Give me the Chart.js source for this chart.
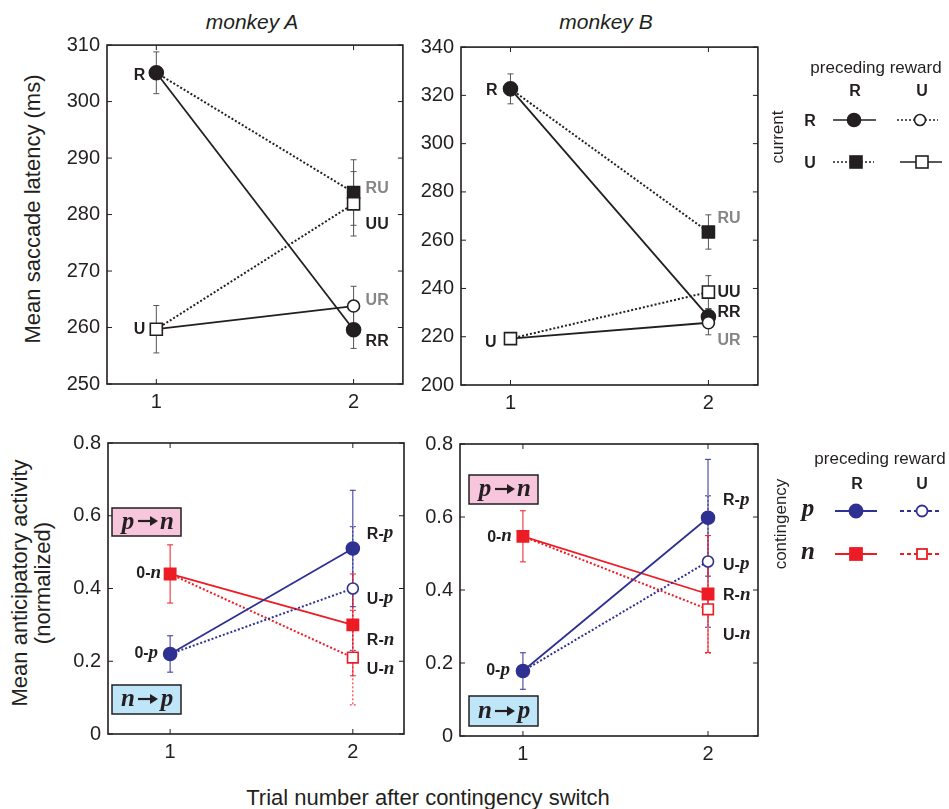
<!DOCTYPE html>
<html lang="en">
<head>
<meta charset="UTF-8">
<title>Saccade latency and anticipatory activity</title>
<script src="https://cdn.jsdelivr.net/npm/chart.js@4.4.0/dist/chart.umd.min.js"></script>
<style>
    * { margin: 0; padding: 0; box-sizing: border-box; }
    body {
        width: 949px; height: 809px; position: relative; overflow: hidden;
        background: #fff; color: #231f20;
        font-family: "Liberation Sans", Arial, sans-serif;
    }
    canvas { position: absolute; }
    .txt { position: absolute; white-space: nowrap; transform: translate(-50%, -50%); }
    .rot { transform: translate(-50%, -50%) rotate(-90deg); text-align: center; }
    .title { font-size: 21px; font-style: italic; }
    .axis-title { font-size: 22px; line-height: 23px; }
    svg { position: absolute; left: 0; top: 0; }
</style>
</head>
<body>
    <div class="txt title" style="left:252px; top:22px;">monkey A</div>
    <div class="txt title" style="left:606px; top:22px;">monkey B</div>
    <div class="txt rot axis-title" style="left:32px; top:209px;">Mean saccade latency (ms)</div>
    <div class="txt rot axis-title" style="left:31px; top:583px;">Mean anticipatory activity<br>(normalized)</div>
    <div class="txt axis-title" style="left:428px; top:797px;">Trial number after contingency switch</div>

    <canvas id="latA" width="356" height="379" style="left:57px; top:35px;"></canvas>
    <canvas id="latB" width="357" height="378" style="left:411px; top:37px;"></canvas>
    <canvas id="actA" width="356" height="331" style="left:58px; top:433px;"></canvas>
    <canvas id="actB" width="358" height="332" style="left:410px; top:434px;"></canvas>

    <svg width="949" height="809" font-family="Liberation Sans, Arial, sans-serif">
        <!-- switch-direction boxes -->
        <g stroke="#231f20" stroke-width="1.5">
            <rect x="112" y="508" width="69" height="28" fill="#f7c6dc"/>
            <rect x="112" y="685" width="69" height="29" fill="#bfe6f8"/>
            <rect x="469" y="475" width="69" height="29" fill="#f7c6dc"/>
            <rect x="469" y="696" width="69" height="30" fill="#bfe6f8"/>
        </g>
        <g font-family="Liberation Serif, Times New Roman, serif" font-style="italic" font-weight="bold" font-size="25" fill="#231f20" text-anchor="middle">
            <text x="128" y="529">p</text><text x="167" y="529">n</text>
            <text x="128" y="706">n</text><text x="167" y="706">p</text>
            <text x="485" y="496">p</text><text x="524" y="496">n</text>
            <text x="485" y="718">n</text><text x="524" y="718">p</text>
        </g>
        <g fill="#231f20" stroke="#231f20" stroke-width="2.2">
            <line x1="138" y1="521" x2="151" y2="521"/><path d="M150 516 L158 521 L150 526 Z" stroke="none"/>
            <line x1="138" y1="699" x2="151" y2="699"/><path d="M150 694 L158 699 L150 704 Z" stroke="none"/>
            <line x1="495" y1="489" x2="508" y2="489"/><path d="M507 484 L515 489 L507 494 Z" stroke="none"/>
            <line x1="495" y1="711" x2="508" y2="711"/><path d="M507 706 L515 711 L507 716 Z" stroke="none"/>
        </g>

        <!-- legend: latency -->
        <g fill="#231f20">
            <text x="876" y="73" font-size="17" text-anchor="middle">preceding reward</text>
            <text x="855" y="96" font-size="16" font-weight="bold" text-anchor="middle">R</text>
            <text x="922" y="96" font-size="16" font-weight="bold" text-anchor="middle">U</text>
            <text x="810" y="126" font-size="16" font-weight="bold" text-anchor="middle">R</text>
            <text x="810" y="168" font-size="16" font-weight="bold" text-anchor="middle">U</text>
            <text transform="translate(783 137) rotate(-90)" font-size="17" text-anchor="middle">current</text>
        </g>
        <g stroke="#231f20" stroke-width="1.6">
            <line x1="833" y1="120" x2="876" y2="120"/>
            <circle cx="854" cy="120" r="6.5" fill="#231f20"/>
            <line x1="897" y1="120" x2="938" y2="120" stroke-dasharray="2 2"/>
            <circle cx="920" cy="120" r="5.5" fill="#fff"/>
            <line x1="833" y1="162" x2="874" y2="162" stroke-dasharray="2 2"/>
            <rect x="850" y="156" width="12" height="12" fill="#231f20"/>
            <line x1="900" y1="162" x2="942" y2="162"/>
            <rect x="916" y="156" width="12" height="12" fill="#fff"/>
        </g>

        <!-- legend: activity -->
        <g fill="#231f20">
            <text x="880" y="464" font-size="17" text-anchor="middle">preceding reward</text>
            <text x="857" y="489" font-size="16" font-weight="bold" text-anchor="middle">R</text>
            <text x="922" y="489" font-size="16" font-weight="bold" text-anchor="middle">U</text>
            <text x="808" y="516" font-size="25" font-weight="bold" font-style="italic" font-family="Liberation Serif, serif" text-anchor="middle">p</text>
            <text x="808" y="559" font-size="25" font-weight="bold" font-style="italic" font-family="Liberation Serif, serif" text-anchor="middle">n</text>
            <text transform="translate(786 524) rotate(-90)" font-size="17" text-anchor="middle">contingency</text>
        </g>
        <g stroke-width="1.8">
            <line x1="835" y1="511" x2="877" y2="511" stroke="#2e3192"/>
            <circle cx="856" cy="511" r="6.5" fill="#2e3192" stroke="#2e3192"/>
            <line x1="900" y1="511" x2="942" y2="511" stroke="#2e3192" stroke-dasharray="4 3"/>
            <circle cx="922" cy="511" r="5.5" fill="#fff" stroke="#2e3192"/>
            <line x1="835" y1="554" x2="877" y2="554" stroke="#ed1c24"/>
            <rect x="850" y="548" width="12" height="12" fill="#ed1c24" stroke="#ed1c24"/>
            <line x1="900" y1="554" x2="942" y2="554" stroke="#ed1c24" stroke-dasharray="4 3"/>
            <rect x="917" y="549" width="10" height="10" fill="#fff" stroke="#ed1c24"/>
        </g>
    </svg>

    <script>
        // x positions
        const trials = [1, 2];

        // monkey A latency (ms). trial 1: R, U ; trial 2: RR, RU, UR, UU
        const latA1 = [305.1, 259.7];
        const latA1Err = [3.7, 4.2];
        const latA2 = [259.6, 283.9, 263.8, 281.9];
        const latA2Err = [3.3, 5.8, 3.5, 5.7];

        // monkey B latency (ms)
        const latB1 = [322.7, 219.2];
        const latB1Err = [6.2, 2.2];
        const latB2 = [228.3, 263.4, 225.8, 238.5];
        const latB2Err = [3.2, 7.1, 5.0, 6.8];

        // anticipatory activity. trial 1: 0-p, 0-n ; trial 2: R-p, U-p, R-n, U-n
        const actA1 = [0.22, 0.44];
        const actA1Err = [0.05, 0.08];
        const actA2 = [0.51, 0.40, 0.30, 0.21];
        const actA2Err = [0.16, 0.17, 0.14, 0.13];

        const actB1 = [0.178, 0.547];
        const actB1Err = [0.05, 0.07];
        const actB2 = [0.598, 0.478, 0.389, 0.347];
        const actB2Err = [0.16, 0.18, 0.16, 0.12];

        // which trial-1 point each trial-2 point is joined to
        const trial2From = [0, 0, 1, 1];

        const latNames1 = ['R', 'U'];
        const latNames2 = ['RR', 'RU', 'UR', 'UU'];
        const actNames1 = [['0-', 'p'], ['0-', 'n']];
        const actNames2 = [['R-', 'p'], ['U-', 'p'], ['R-', 'n'], ['U-', 'n']];

        const INK = '#231f20', BLUE = '#2e3192', RED = '#ed1c24', GREY = '#858585';

        // marker styles
        const latMk1 = [
            { shape: 'circle', r: 7, fill: INK, color: INK },
            { shape: 'rect', r: 8.5, fill: '#fff', color: INK }
        ];
        const latMk2 = [
            { shape: 'circle', r: 7, fill: INK, color: INK, dash: [] },
            { shape: 'rect', r: 8.5, fill: INK, color: INK, dash: [2, 2] },
            { shape: 'circle', r: 6, fill: '#fff', color: INK, dash: [] },
            { shape: 'rect', r: 8.5, fill: '#fff', color: INK, dash: [2, 2] }
        ];
        const actMk1 = [
            { shape: 'circle', r: 6.5, fill: BLUE, color: BLUE },
            { shape: 'rect', r: 8, fill: RED, color: RED }
        ];
        const actMk2 = [
            { shape: 'circle', r: 6.5, fill: BLUE, color: BLUE, dash: [] },
            { shape: 'circle', r: 5.5, fill: '#fff', color: BLUE, dash: [2, 2] },
            { shape: 'rect', r: 8, fill: RED, color: RED, dash: [] },
            { shape: 'rect', r: 7.5, fill: '#fff', color: RED, dash: [2, 2] }
        ];

        function buildSets(v1, e1, v2, e2, mk1, mk2, errColor) {
            const sets = [];
            let k = 0;
            const marker = (x, y, err, m, errDash) => ({
                data: [{ x: x, y: y }],
                showLine: false,
                pointStyle: m.shape,
                pointRadius: m.r,
                pointBackgroundColor: m.fill,
                pointBorderColor: m.color,
                pointBorderWidth: 1.6,
                order: 50 - (k++),
                errors: [err],
                errColor: errColor || m.color,
                errDash: errDash
            });
            v1.forEach((v, i) => sets.push(marker(trials[0], v, e1[i], mk1[i], [])));
            v2.forEach((v, i) => sets.push(marker(trials[1], v, e2[i], mk2[i], errColor ? [] : mk2[i].dash)));
            v2.forEach((v, i) => sets.push({
                data: [{ x: trials[0], y: v1[trial2From[i]] }, { x: trials[1], y: v }],
                borderColor: mk2[i].color,
                borderWidth: mk2[i].dash.length ? 2 : 1.8,
                borderDash: mk2[i].dash,
                pointRadius: 0,
                order: 100
            }));
            return sets;
        }

        const decor = {
            id: 'decor',
            beforeDatasetsDraw(chart) {
                const { ctx, scales: { x, y } } = chart;
                ctx.save();
                chart.data.datasets.forEach(ds => {
                    if (!ds.errors) return;
                    ctx.strokeStyle = ds.errColor;
                    ctx.lineWidth = 1;
                    ctx.setLineDash(ds.errDash || []);
                    ds.data.forEach((p, i) => {
                        const px = x.getPixelForValue(p.x);
                        const top = y.getPixelForValue(p.y + ds.errors[i]);
                        const bot = y.getPixelForValue(p.y - ds.errors[i]);
                        ctx.beginPath();
                        ctx.moveTo(px, top); ctx.lineTo(px, bot);
                        ctx.moveTo(px - 3, top); ctx.lineTo(px + 3, top);
                        ctx.moveTo(px - 3, bot); ctx.lineTo(px + 3, bot);
                        ctx.stroke();
                    });
                });
                ctx.restore();
            },
            afterDraw(chart, args, opts) {
                const { ctx, chartArea: a, scales: { x, y } } = chart;
                ctx.save();
                ctx.strokeStyle = INK;
                ctx.lineWidth = 1.6;
                ctx.strokeRect(a.left, a.top, a.right - a.left, a.bottom - a.top);
                // MATLAB style inward ticks
                ctx.lineWidth = 1;
                ctx.beginPath();
                x.ticks.forEach(t => {
                    const px = x.getPixelForValue(t.value);
                    ctx.moveTo(px, a.bottom); ctx.lineTo(px, a.bottom - 5);
                    ctx.moveTo(px, a.top); ctx.lineTo(px, a.top + 5);
                });
                y.ticks.forEach(t => {
                    const py = y.getPixelForValue(t.value);
                    ctx.moveTo(a.left, py); ctx.lineTo(a.left + 5, py);
                    ctx.moveTo(a.right, py); ctx.lineTo(a.right - 5, py);
                });
                ctx.stroke();

                // point labels
                ctx.textBaseline = 'middle';
                (opts.labels || []).forEach(l => {
                    const px = x.getPixelForValue(l.x) + l.dx;
                    const py = y.getPixelForValue(l.y) + l.dy;
                    ctx.fillStyle = l.color || INK;
                    const sansFont = 'bold 16px "Liberation Sans", Arial, sans-serif';
                    const serifFont = 'italic bold 19px "Liberation Serif", "Times New Roman", serif';
                    ctx.font = sansFont;
                    const w1 = ctx.measureText(l.text).width;
                    let w2 = 0;
                    if (l.it) { ctx.font = serifFont; w2 = ctx.measureText(l.it).width; }
                    const x0 = l.align === 'right' ? px - w1 - w2 : px;
                    ctx.textAlign = 'left';
                    ctx.font = sansFont;
                    ctx.fillText(l.text, x0, py);
                    if (l.it) { ctx.font = serifFont; ctx.fillText(l.it, x0 + w1, py - 1); }
                });
                ctx.restore();
            }
        };

        function makeLabels(v1, v2, names1, names2, off1, off2, colors2) {
            const out = [];
            v1.forEach((v, i) => {
                const n = names1[i];
                out.push({ x: trials[0], y: v, text: Array.isArray(n) ? n[0] : n, it: Array.isArray(n) ? n[1] : '',
                    dx: off1[i][0], dy: off1[i][1], align: 'right' });
            });
            v2.forEach((v, i) => {
                const n = names2[i];
                out.push({ x: trials[1], y: v, text: Array.isArray(n) ? n[0] : n, it: Array.isArray(n) ? n[1] : '',
                    dx: off2[i][0], dy: off2[i][1], align: 'left', color: colors2 ? colors2[i] : INK });
            });
            return out;
        }

        // keep the plot box exactly where the layout padding puts it
        const noPad = s => { s.paddingTop = 0; s.paddingBottom = 0; s.paddingLeft = 0; s.paddingRight = 0; };

        function makeChart(id, sets, labels, xr, yr) {
            const font = { family: '"Liberation Sans", Arial, sans-serif', size: 20 };
            return new Chart(document.getElementById(id), {
                type: 'line',
                data: { datasets: sets },
                plugins: [decor],
                options: {
                    responsive: false,
                    animation: false,
                    layout: { padding: { top: 10, right: 10, left: 0, bottom: 0 } },
                    plugins: {
                        legend: { display: false },
                        tooltip: { enabled: false },
                        decor: { labels: labels }
                    },
                    scales: {
                        x: {
                            type: 'linear', min: xr[0], max: xr[1],
                            grid: { display: false, drawTicks: false },
                            border: { display: false },
                            afterBuildTicks: s => { s.ticks = trials.map(t => ({ value: t })); },
                            afterFit: s => { s.height = 30; noPad(s); },
                            ticks: { color: INK, font: font, padding: 6 }
                        },
                        y: {
                            min: yr[0], max: yr[1],
                            grid: { display: false, drawTicks: false },
                            border: { display: false },
                            afterFit: s => { s.width = 50; noPad(s); },
                            ticks: { color: INK, font: font, padding: 7, stepSize: yr[2] }
                        }
                    }
                }
            });
        }

        const latColors = [INK, GREY, GREY, INK];

        makeChart('latA',
            buildSets(latA1, latA1Err, latA2, latA2Err, latMk1, latMk2, '#555'),
            makeLabels(latA1, latA2, latNames1, latNames2,
                [[-11, 3], [-11, 0]], [[12, 12], [12, -4], [12, -5], [12, 21]], latColors),
            [0.75, 2.25], [250, 310, 10]);

        makeChart('latB',
            buildSets(latB1, latB1Err, latB2, latB2Err, latMk1, latMk2, '#555'),
            makeLabels(latB1, latB2, latNames1, latNames2,
                [[-13, 2], [-14, 4]], [[9, -4], [9, -13], [9, 18], [9, 1]], latColors),
            [0.75, 2.25], [200, 340, 20]);

        makeChart('actA',
            buildSets(actA1, actA1Err, actA2, actA2Err, actMk1, actMk2, null),
            makeLabels(actA1, actA2, actNames1, actNames2,
                [[-12, 0], [-9, 0]], [[14, -14], [14, 11], [14, 16], [14, 12]]),
            [0.66, 2.28], [0, 0.8, 0.2]);

        makeChart('actB',
            buildSets(actB1, actB1Err, actB2, actB2Err, actMk1, actMk2, null),
            makeLabels(actB1, actB2, actNames1, actNames2,
                [[-13, 0], [-11, 1]], [[15, -17], [15, 4], [15, 2], [15, 26]]),
            [0.66, 2.27], [0, 0.8, 0.2]);
    </script>
</body>
</html>
